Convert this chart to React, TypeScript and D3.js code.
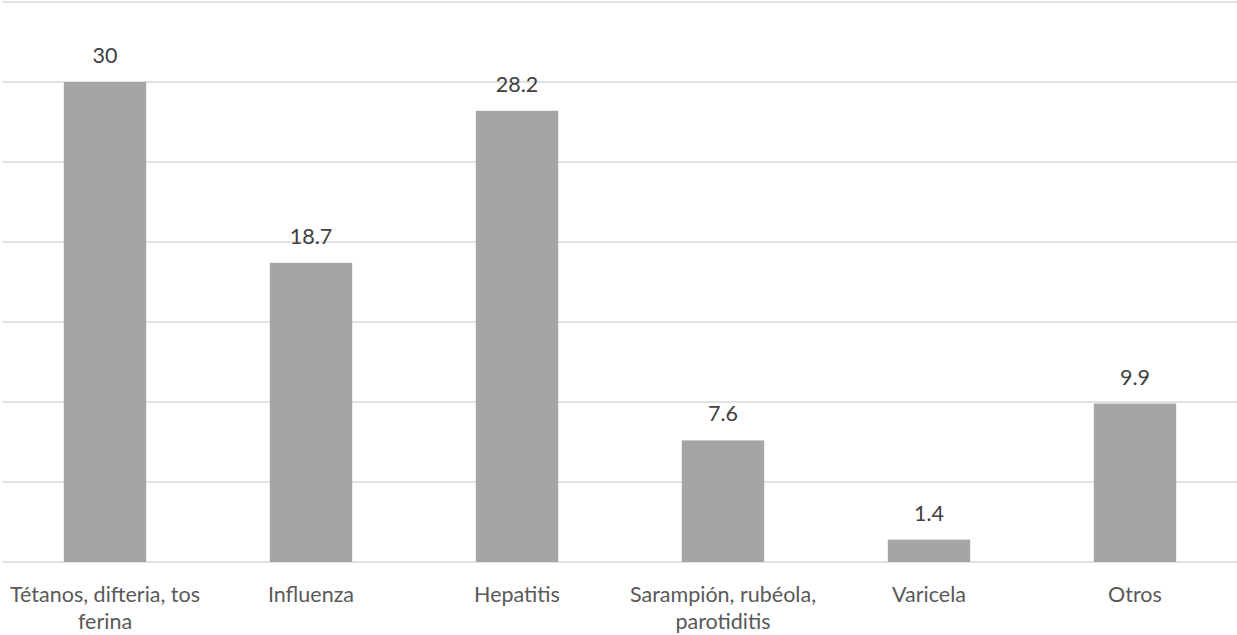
import React from "react";
import * as d3 from "d3";

const categories: string[][] = [
  ["Tétanos, difteria, tos", "ferina"],
  ["Influenza"],
  ["Hepatitis"],
  ["Sarampión, rubéola,", "parotiditis"],
  ["Varicela"],
  ["Otros"],
];
const values: number[] = [30, 18.7, 28.2, 7.6, 1.4, 9.9];
const valueLabels: string[] = ["30", "18.7", "28.2", "7.6", "1.4", "9.9"];
const gridTicks: number[] = [0, 5, 10, 15, 20, 25, 30, 35];

const W = 1237;
const H = 635;
const FONT = "Lato, Carlito, Calibri, 'Open Sans', sans-serif";

export default function App() {
  const keys = categories.map((_, i) => String(i));
  const x = d3
    .scaleBand<string>()
    .domain(keys)
    .range([2, 1238])
    .paddingInner(0.6)
    .paddingOuter(0.3);
  const y = d3.scaleLinear().domain([0, 35]).range([562, 2]);

  return (
    <svg
      width={W}
      height={H}
      style={{ position: "absolute", left: 0, top: 0 }}
      fontFamily={FONT}
    >
      <rect x={0} y={0} width={W} height={H} fill="#ffffff" />
      {gridTicks.map((t) => (
        <line
          key={t}
          x1={2}
          x2={1238}
          y1={y(t)}
          y2={y(t)}
          stroke="#d9d9d9"
          strokeWidth={1.5}
        />
      ))}
      {values.map((v, i) => (
        <rect
          key={i}
          x={x(String(i))}
          y={y(v)}
          width={x.bandwidth()}
          height={y(0) - y(v)}
          fill="#a5a5a5"
        />
      ))}
      {values.map((v, i) => (
        <text
          key={"v" + i}
          x={(x(String(i)) as number) + x.bandwidth() / 2}
          y={y(v) - 19}
          textAnchor="middle"
          fontSize={21.5}
          fill="#404040"
        >
          {valueLabels[i]}
        </text>
      ))}
      {categories.map((lines, i) => (
        <text
          key={"c" + i}
          textAnchor="middle"
          fontSize={21.5}
          fill="#595959"
        >
          {lines.map((ln, j) => (
            <tspan
              key={j}
              x={(x(String(i)) as number) + x.bandwidth() / 2}
              y={602 + j * 26.5}
            >
              {ln}
            </tspan>
          ))}
        </text>
      ))}
    </svg>
  );
}
